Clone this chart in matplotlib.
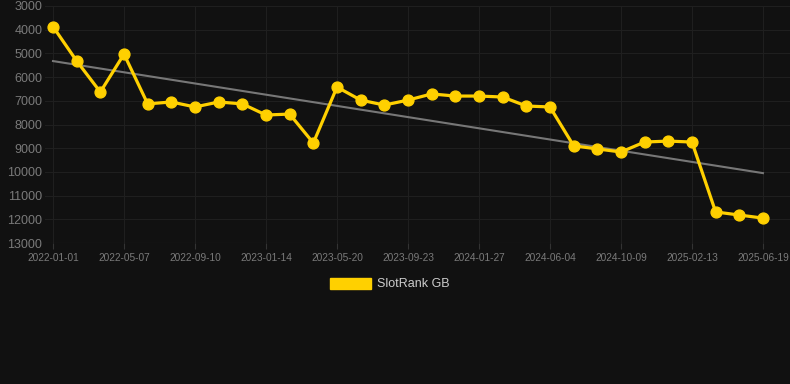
import numpy as np
import matplotlib.pyplot as plt
from matplotlib.patches import Patch

plt.rcParams['font.family'] = ['Liberation Sans', 'DejaVu Sans']

# rank values, one point every ~6 weeks
ranks = [3870, 5320, 6630, 5030, 7130, 7050, 7260, 7050, 7130, 7600,
         7560, 8780, 6420, 6970, 7180, 6970, 6710, 6800, 6800, 6840,
         7220, 7260, 8900, 9030, 9160, 8740, 8700, 8740, 11690, 11820, 11950]
tick_labels = ['2022-01-01', '2022-05-07', '2022-09-10', '2023-01-14', '2023-05-20',
               '2023-09-23', '2024-01-27', '2024-06-04', '2024-10-09', '2025-02-13',
               '2025-06-19']
yticks = [3000, 4000, 5000, 6000, 7000, 8000, 9000, 10000, 11000, 12000, 13000]

bg = '#111111'
gold = '#FFD000'

x = np.arange(len(ranks))
slope, icpt = np.polyfit(x, ranks, 1)

step = 23.63  # px per point
fig = plt.figure(figsize=(7.9, 3.84), dpi=100, facecolor=bg)
ax = fig.add_axes([45 / 790, 1 - 243 / 384, 1 - 45 / 790, 237 / 384])
ax.set_facecolor(bg)

ax.plot(x, slope * x + icpt, color='#777777', lw=1.5, zorder=2)
ax.plot(x, ranks, color=gold, lw=2.3, marker='o', markersize=7.8, zorder=3, clip_on=False)

ax.set_xlim(-8 / step, 30 + 27 / step)
ax.set_ylim(13000, 3000)
ax.set_yticks(yticks)
ax.set_yticklabels([str(v) for v in yticks])
ax.set_xticks(x[::3])
ax.set_xticklabels(tick_labels)

ax.grid(True, color='#1f1f1f', lw=0.8)
ax.tick_params(axis='y', length=0, colors='#7a7a7a', labelsize=9, pad=2)
ax.tick_params(axis='x', length=4, color='#333333', colors='#7a7a7a', labelsize=7.3, pad=3)
for s in ax.spines.values():
    s.set_visible(False)
ax.axhline(13000, color='#333333', lw=0.8)

fig.legend(handles=[Patch(color=gold, label='SlotRank GB')], loc='center',
           bbox_to_anchor=(390 / 790, 1 - 284 / 384), frameon=False,
           labelcolor='#cccccc', fontsize=9, handlelength=3.3, handleheight=1.0,
           handletextpad=0.5)

fig.savefig('out.png', facecolor=bg)
